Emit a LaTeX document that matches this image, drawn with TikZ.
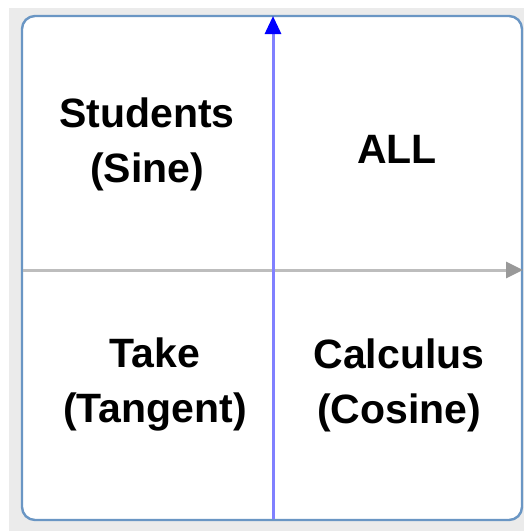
\documentclass[tikz,border=0pt]{standalone}
\usepackage{fontspec}
\setmainfont{Liberation Sans}
\usepackage{tikz}
\usetikzlibrary{arrows.meta,calc,positioning}
\usepackage{xcolor}
\definecolor{sfondo}{HTML}{EBEBEB}
\definecolor{bordo}{HTML}{6A96C4}
\definecolor{asseY}{HTML}{8080FF}
\definecolor{asseX}{HTML}{BDBDBD}
\definecolor{puntaX}{HTML}{999999}

\tikzset{
  quadrante/.style={font=\bfseries\fontsize{41}{55}\selectfont, align=center, inner sep=0pt},
}

\begin{document}
\begin{tikzpicture}[x=1pt, y=-1pt]
% area della pagina
\useasboundingbox (0,0) rectangle (524,531);
\fill[sfondo] (9,8) rectangle (524,531);
% riquadro
\draw[bordo, line width=2.4pt, fill=white, rounded corners=13pt] (22,16) rectangle (522,520);
% estremi degli assi
\coordinate (xsx) at (23,270);
\coordinate (xdx) at (523,270);
\coordinate (ybasso) at (273,519);
\coordinate (yalto) at (273,16);
% assi
\draw[asseX, line width=3pt, -{Triangle[length=17pt,width=16pt,color=puntaX]}] (xsx) -- (xdx);
\draw[asseY, line width=3pt, -{Triangle[length=18pt,width=16pt,color=blue]}] (ybasso) -- (yalto);
% etichette dei quadranti
\node[quadrante] (sine)    at (147,144) {Students\\(Sine)};
\node[quadrante] (all)     at (397,149) {ALL};
\node[quadrante] (tangent) at (155,384) {Take\\(Tangent)};
\node[quadrante] (cosine)  at (399,385) {Calculus\\(Cosine)};
\end{tikzpicture}
\end{document}
